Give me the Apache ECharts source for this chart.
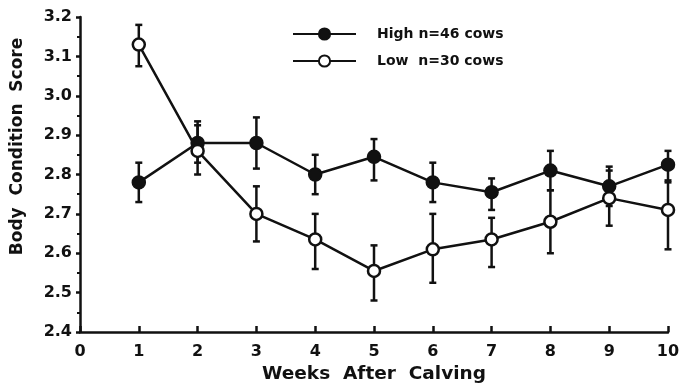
<!DOCTYPE html>
<html><head><meta charset="utf-8">
<script src="https://cdn.jsdelivr.net/npm/echarts@6/dist/echarts.min.js"></script>
<style>html,body{margin:0;padding:0;background:#fff}#c{width:683px;height:386px}</style>
</head><body><div id="c"></div>
<script>
var weeks = [1, 2, 3, 4, 5, 6, 7, 8, 9, 10];
var highMean  = [2.78, 2.88, 2.88, 2.80, 2.845, 2.78, 2.755, 2.81, 2.77, 2.825];
var highLower = [2.73, 2.83, 2.815, 2.75, 2.785, 2.73, 2.71, 2.76, 2.72, 2.78];
var highUpper = [2.83, 2.935, 2.945, 2.85, 2.89, 2.83, 2.79, 2.86, 2.82, 2.86];
var lowMean  = [3.13, 2.86, 2.70, 2.635, 2.555, 2.61, 2.635, 2.68, 2.74, 2.71];
var lowLower = [3.075, 2.80, 2.63, 2.56, 2.48, 2.525, 2.565, 2.60, 2.67, 2.61];
var lowUpper = [3.18, 2.925, 2.77, 2.70, 2.62, 2.70, 2.69, 2.76, 2.81, 2.785];
var seriesNames = ['High n=46 cows', 'Low  n=30 cows'];
var xTitle = 'Weeks  After  Calving';
var yTitle = 'Body  Condition  Score';

var FONT = '"DejaVu Sans", "Liberation Sans", Arial, sans-serif';
var INK = '#111';

function pairs(xs, ys) { return xs.map(function (x, i) { return [x, ys[i]]; }); }
function errData(xs, lo, hi) { return xs.map(function (x, i) { return [x, lo[i], hi[i]]; }); }

function renderErr(params, api) {
  var x = api.value(0);
  var p1 = api.coord([x, api.value(1)]);
  var p2 = api.coord([x, api.value(2)]);
  var w = 3.5;
  var st = { stroke: INK, lineWidth: 2.5 };
  return {
    type: 'group',
    children: [
      { type: 'line', shape: { x1: p1[0], y1: p1[1], x2: p2[0], y2: p2[1] }, style: st },
      { type: 'line', shape: { x1: p1[0] - w, y1: p1[1], x2: p1[0] + w, y2: p1[1] }, style: st },
      { type: 'line', shape: { x1: p2[0] - w, y1: p2[1], x2: p2[0] + w, y2: p2[1] }, style: st }
    ]
  };
}

var chart = echarts.init(document.getElementById('c'), null, { renderer: 'canvas' });
chart.setOption({
  animation: false,
  backgroundColor: '#fff',
  textStyle: { fontFamily: FONT, color: INK },
  grid: { left: 80, right: 15, top: 17, bottom: 54, containLabel: false, outerBoundsMode: 'none' },
  legend: {
    orient: 'vertical',
    left: 287, top: 22,
    itemWidth: 63, itemHeight: 14, itemGap: 13,
    data: seriesNames,
    textStyle: { fontFamily: FONT, fontWeight: 'bold', fontSize: 14, color: INK, padding: [0, 0, 0, 16] }
  },
  xAxis: {
    type: 'value', min: 0, max: 10, interval: 1,
    name: xTitle, nameLocation: 'middle', nameGap: 33,
    nameTextStyle: { fontFamily: FONT, fontWeight: 'bold', fontSize: 18.5, color: INK },
    axisLine: { onZero: false, lineStyle: { color: INK, width: 2.5 } },
    axisTick: { inside: true, length: 6, lineStyle: { color: INK, width: 2.5 } },
    axisLabel: { fontFamily: FONT, fontWeight: 'bold', fontSize: 16, color: INK, margin: 12 },
    splitLine: { show: false }
  },
  yAxis: {
    type: 'value', min: 2.4, max: 3.2, interval: 0.1,
    name: yTitle, nameLocation: 'middle', nameGap: 54, nameRotate: 90,
    nameTextStyle: { fontFamily: FONT, fontWeight: 'bold', fontSize: 17, color: INK, padding: [0, 0, 0, 56] },
    axisLine: { show: true, lineStyle: { color: INK, width: 2.5 } },
    axisTick: { show: true, length: 4, lineStyle: { color: INK, width: 2.5 } },
    minorTick: { show: true, splitNumber: 2, length: 3, lineStyle: { color: INK, width: 2 } },
    axisLabel: { fontFamily: FONT, fontWeight: 'bold', fontSize: 16, color: INK, margin: 8,
      formatter: function (v) { return v.toFixed(1); } },
    splitLine: { show: false }
  },
  series: [
    { type: 'custom', renderItem: renderErr, data: errData(weeks, highLower, highUpper), z: 1, silent: true },
    { type: 'custom', renderItem: renderErr, data: errData(weeks, lowLower, lowUpper), z: 1, silent: true },
    {
      name: seriesNames[0], type: 'line', data: pairs(weeks, highMean), z: 3,
      symbol: 'circle', symbolSize: 13,
      lineStyle: { color: INK, width: 2.5 },
      itemStyle: { color: INK, borderColor: INK, borderWidth: 1.5 }
    },
    {
      name: seriesNames[1], type: 'line', data: pairs(weeks, lowMean), z: 4,
      symbol: 'circle', symbolSize: 12,
      lineStyle: { color: INK, width: 2.5 },
      itemStyle: { color: '#fff', borderColor: INK, borderWidth: 2.5 }
    }
  ]
});
</script></body></html>
